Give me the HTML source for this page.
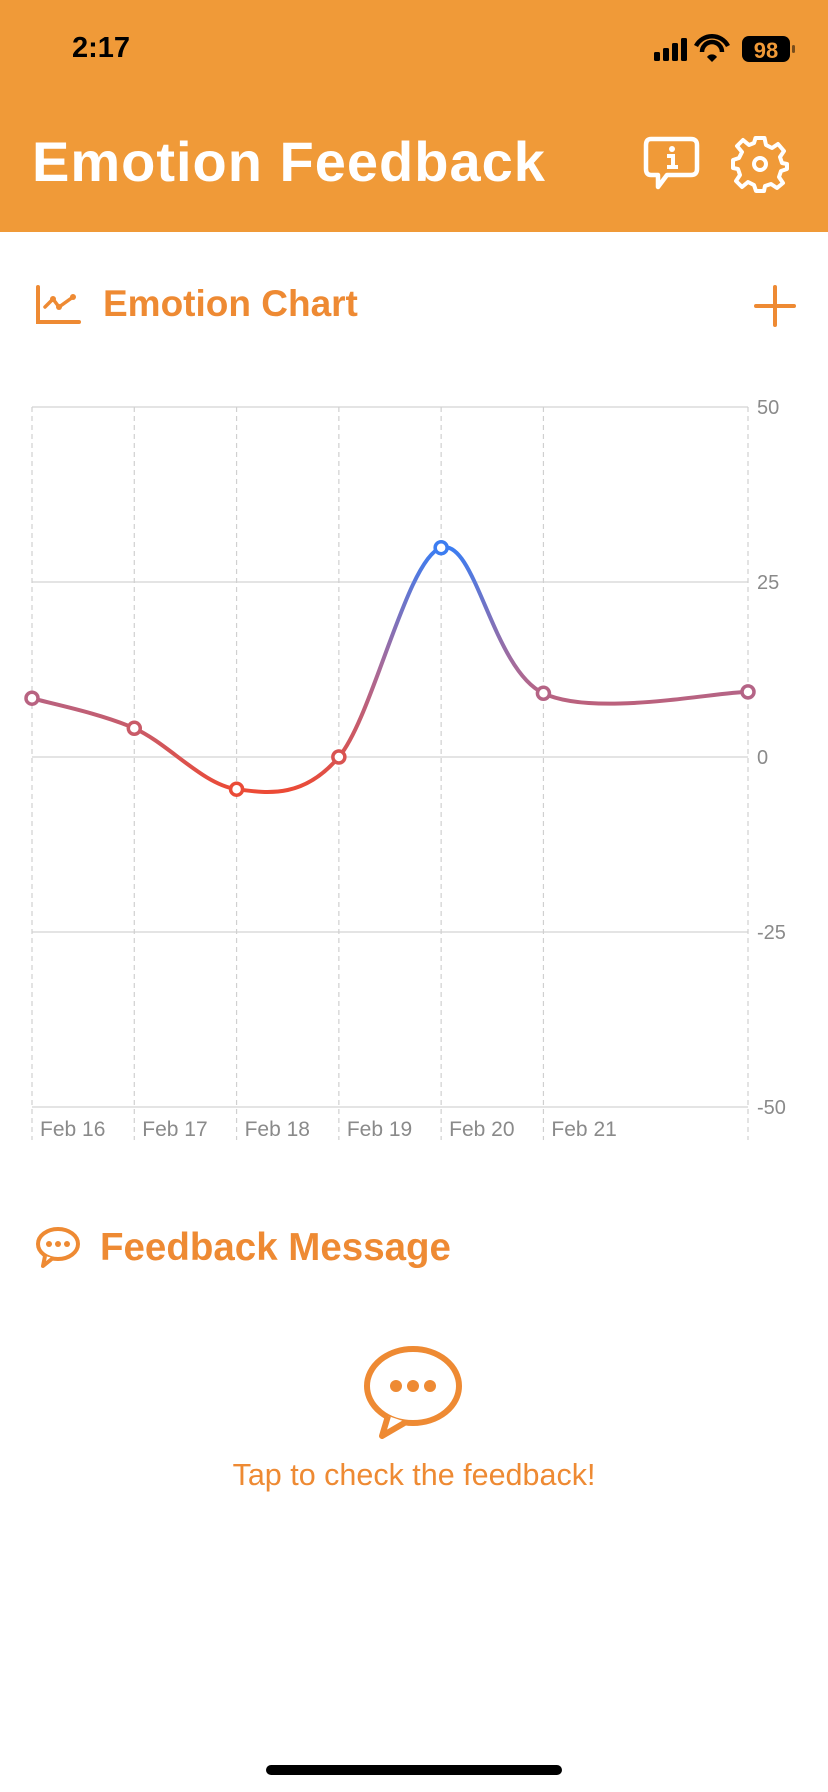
<!DOCTYPE html>
<html><head><meta charset="utf-8">
<style>
body{margin:0;width:828px;height:1792px;background:#fff;position:relative;overflow:hidden;font-family:"Liberation Sans",sans-serif}
.abs{position:absolute}
</style></head>
<body>
<div class="abs" style="left:0;top:0;width:828px;height:232px;background:#F09A38"></div>
<div class="abs" style="left:72px;top:32px;font-size:29px;font-weight:bold;color:#000">2:17</div>
<svg class="abs" style="left:650px;top:34px" width="150" height="32">
<rect x="4" y="18" width="6" height="9" rx="1.5" fill="#000"/><rect x="13" y="14" width="6" height="13" rx="1.5" fill="#000"/><rect x="22" y="9" width="6" height="18" rx="1.5" fill="#000"/><rect x="31" y="4" width="6" height="23" rx="1.5" fill="#000"/>
<path d="M46 12 A18 18 0 0 1 78 12" stroke="#000" stroke-width="4.5" fill="none"/><path d="M52 18 A10 10 0 0 1 72 18" stroke="#000" stroke-width="4.5" fill="none"/><path d="M57 23 L62 28 L67 23 A6 6 0 0 0 57 23Z" fill="#000"/>
<rect x="92" y="2" width="48" height="26" rx="7" fill="#000"/><text x="116" y="24" font-size="22" font-weight="bold" text-anchor="middle" fill="#F09A38" font-family="Liberation Sans">98</text>
<rect x="142" y="11" width="3" height="8" rx="1.5" fill="#000" opacity=".5"/>
</svg>
<div class="abs" style="left:32px;top:129px;font-size:56px;font-weight:bold;color:#fff;letter-spacing:1px">Emotion Feedback</div>
<svg class="abs" style="left:643px;top:136px" width="58" height="58">
<path d="M8 3 H48 Q54 3 54 9 V33 Q54 39 48 39 H24 L15 51 V39 H8 Q3 39 3 33 V9 Q3 3 8 3Z" fill="none" stroke="#fff" stroke-width="4.5" stroke-linejoin="round"/>
<circle cx="29" cy="13" r="3" fill="#fff"/><path d="M24 20 H30 V31 M24 31 H35" stroke="#fff" stroke-width="4" fill="none"/>
</svg>
<svg class="abs" style="left:730px;top:134px" width="60" height="60" viewBox="-30 -30 60 60">
<path d="M-4.5 -26 H4.5 L6 -19 L12 -16 L18 -20 L24 -13 L20 -7 L22 -1 L27 0 V5 L21 7 L19 13 L23 19 L17 24 L11 20 L5 22 L4 27 H-4 L-6 21 L-12 18 L-18 23 L-24 17 L-20 11 L-22 5 L-27 4 V-4 L-21 -6 L-18 -12 L-23 -18 L-17 -24 L-11 -19 L-6 -21Z" fill="none" stroke="#fff" stroke-width="4" stroke-linejoin="round"/>
<circle r="6" fill="none" stroke="#fff" stroke-width="4"/>
</svg>

<svg class="abs" style="left:35px;top:285px" width="48" height="40">
<path d="M3 2 V37 H44" stroke="#EE8A33" stroke-width="4" fill="none" stroke-linecap="round"/>
<path d="M10 22 L18 14 L24 22 L38 12" stroke="#EE8A33" stroke-width="3.5" fill="none" stroke-linecap="round" stroke-linejoin="round"/>
<circle cx="18" cy="14" r="3" fill="#EE8A33"/><circle cx="24" cy="22" r="3" fill="#EE8A33"/><circle cx="38" cy="12" r="3" fill="#EE8A33"/>
</svg>
<div class="abs" style="left:103px;top:283px;font-size:37px;font-weight:bold;color:#EE8A33">Emotion Chart</div>
<svg class="abs" style="left:754px;top:285px" width="42" height="42">
<path d="M21 2 V40 M2 21 H40" stroke="#EE8A33" stroke-width="4" stroke-linecap="round"/>
</svg>

<svg class="abs" id="chart" style="left:0;top:0" width="828" height="1160"></svg>

<svg class="abs" style="left:35px;top:1226px" width="46" height="44">
<ellipse cx="23" cy="18" rx="20" ry="15" fill="none" stroke="#EE8A33" stroke-width="4"/>
<path d="M10 30 L8 40 L18 32" fill="#fff" stroke="#EE8A33" stroke-width="4" stroke-linejoin="round"/>
<circle cx="14" cy="18" r="3" fill="#EE8A33"/><circle cx="23" cy="18" r="3" fill="#EE8A33"/><circle cx="32" cy="18" r="3" fill="#EE8A33"/>
</svg>
<div class="abs" style="left:100px;top:1226px;font-size:38.5px;font-weight:bold;color:#EE8A33">Feedback Message</div>
<svg class="abs" style="left:362px;top:1344px" width="102" height="96">
<ellipse cx="51" cy="42" rx="46" ry="37" fill="none" stroke="#EE8A33" stroke-width="6"/>
<path d="M26 72 L20 92 L44 78" fill="#fff" stroke="#EE8A33" stroke-width="6" stroke-linejoin="round"/>
<circle cx="34" cy="42" r="6" fill="#EE8A33"/><circle cx="51" cy="42" r="6" fill="#EE8A33"/><circle cx="68" cy="42" r="6" fill="#EE8A33"/>
</svg>
<div class="abs" style="left:0;width:828px;top:1458px;text-align:center;font-size:30.5px;color:#EE8A33">Tap to check the feedback!</div>
<div class="abs" style="left:266px;top:1765px;width:296px;height:10px;border-radius:5px;background:#000"></div>

<script>
const dates = ["Feb 16","Feb 17","Feb 18","Feb 19","Feb 20","Feb 21",""];
const dayIndex = [0, 1, 2, 3, 4, 5, 7];
const values = [8.4, 4.1, -4.6, 0, 29.9, 9.1, 9.3];
const yTicks = [50, 25, 0, -25, -50];
const svg = document.getElementById('chart');
const NS = 'http://www.w3.org/2000/svg';
const X0 = 32, X1 = 748, Y50 = 407, Yn50 = 1107, DMAX = 7;
const xs = d => X0 + d * (X1 - X0) / DMAX;
const ys = v => Y50 + (50 - v) * (Yn50 - Y50) / 100;
function mk(tag, attrs){const e=document.createElementNS(NS,tag);for(const k in attrs)e.setAttribute(k,attrs[k]);svg.appendChild(e);return e;}
const defs = mk('defs',{});
const lg = document.createElementNS(NS,'linearGradient');
lg.setAttribute('id','lg');lg.setAttribute('gradientUnits','userSpaceOnUse');
lg.setAttribute('x1',0);lg.setAttribute('x2',0);lg.setAttribute('y1',ys(30));lg.setAttribute('y2',ys(-5));
lg.innerHTML='<stop offset="0" stop-color="#3B7DF2"/><stop offset="0.5" stop-color="#A86A98"/><stop offset="1" stop-color="#EC4A35"/>';
defs.appendChild(lg);
yTicks.forEach(t=>{
  const l=mk('line',{x1:X0,x2:X1,y1:ys(t),y2:ys(t),stroke:'#dcdcdc','stroke-width':1.5});
  
  
  const tx=mk('text',{x:757,y:ys(t)+7,'font-size':20,fill:'#8a8a8a','font-family':'Liberation Sans'});
  tx.textContent=t;
  
  
});
dates.forEach((d,i)=>{
  const x=xs(dayIndex[i]);
  const l=mk('line',{x1:x,x2:x,y1:Y50,y2:1140,stroke:'#d0d0d0','stroke-width':1.2,'stroke-dasharray':'5 4'});
  
  
  if(d){const tx=mk('text',{x:x+8,y:1136,'font-size':21,fill:'#8a8a8a','font-family':'Liberation Sans'});
  tx.textContent=d;
  
  }
});
const P=values.map((v,i)=>[xs(dayIndex[i]),ys(v)]);
let d='M'+P[0][0]+' '+P[0][1];
for(let i=0;i<P.length-1;i++){
  const p0=P[Math.max(i-1,0)],p1=P[i],p2=P[i+1],p3=P[Math.min(i+2,P.length-1)];
  const c1=[p1[0]+(p2[0]-p0[0])/6,p1[1]+(p2[1]-p0[1])/6],c2=[p2[0]-(p3[0]-p1[0])/6,p2[1]-(p3[1]-p1[1])/6];
  d+=` C${c1[0]} ${c1[1]} ${c2[0]} ${c2[1]} ${p2[0]} ${p2[1]}`;
}
const line=mk('path',{d:d,fill:'none',stroke:'url(#lg)','stroke-width':4});


function col(v){let t=Math.min(1,Math.max(0,(30-v)/35));const a=[59,125,242],m=[168,106,152],b=[236,74,53];
 let c=t<0.5?a.map((x,k)=>x+(m[k]-x)*t*2):m.map((x,k)=>x+(b[k]-x)*(t-0.5)*2);return `rgb(${c.map(Math.round).join(',')})`;}
values.forEach((v,i)=>{
  const c=mk('circle',{cx:xs(dayIndex[i]),cy:ys(v),r:6,fill:'#fff',stroke:col(v),'stroke-width':3.5});
  
  
});
</script>
</body></html>
